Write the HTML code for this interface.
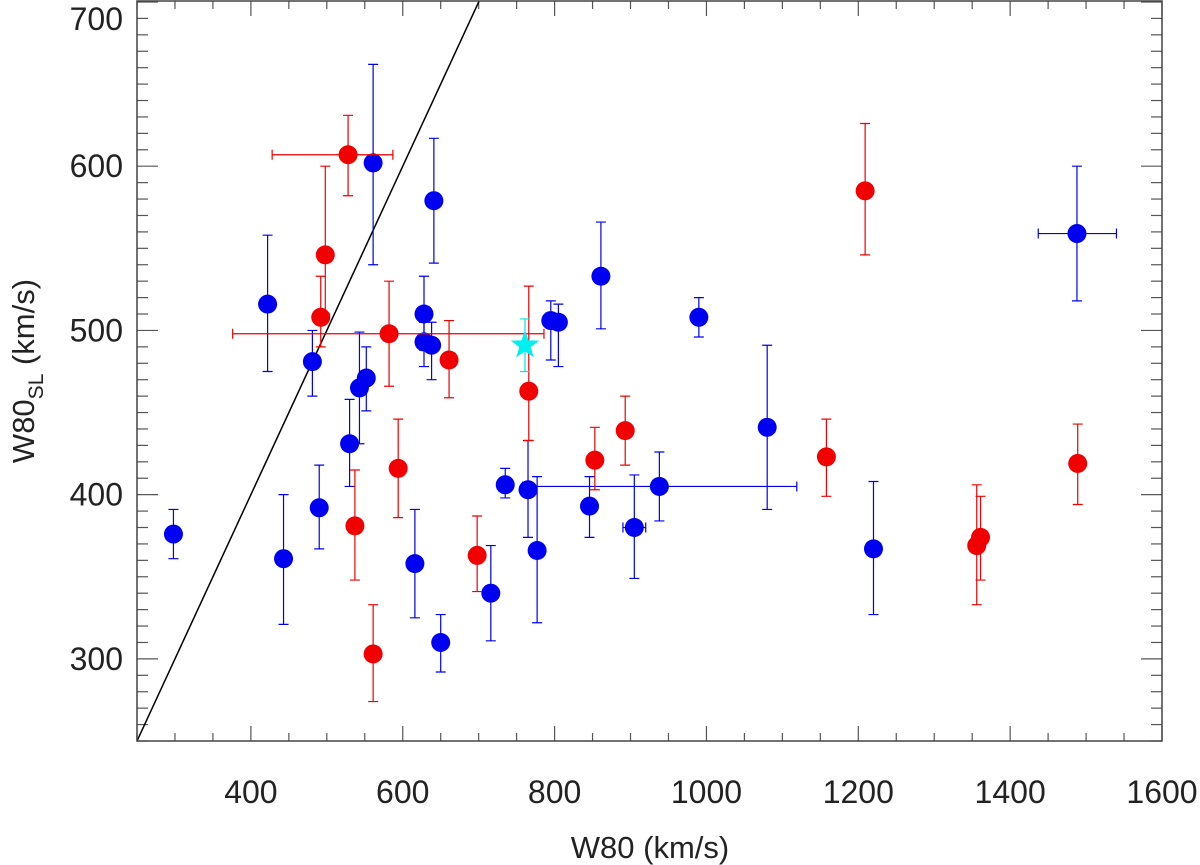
<!DOCTYPE html>
<html><head><meta charset="utf-8"><style>
html,body{margin:0;padding:0;background:#fff;}
svg{display:block;font-family:"Liberation Sans",sans-serif;}
</style></head><body>
<svg id="chart" width="1200" height="865"></svg>
<script>
const blueX=[298,422,443,481,490,530,543,552,561,616,628,628,638,641,650,716,735,765,777,795,805,846,861,905,938,990,1080,1220,1488];
const blueY=[376,516,361,481,392,431,465,471,602,358,510,493,491,579,310,340,406,403,366,506,505,393,533,380,405,508,441,367,559];
const blueHi=[391,558,400,500,418,458,499,490,662,391,533,505,505,617,327,369,416,433,411,518,516,411,566,412,426,520,491,408,600];
const blueLo=[361,475,321,460,367,405,431,451,540,325,488,478,470,541,292,311,398,374,322,482,478,374,501,349,384,496,391,327,518];
const blueXlo=[null,null,null,null,null,null,null,null,null,null,null,null,null,null,null,null,null,null,null,null,null,null,null,890,758,null,null,null,1437];
const blueXhi=[null,null,null,null,null,null,null,null,null,null,null,null,null,null,null,null,null,null,null,null,null,null,null,920,1119,null,null,null,1540];
const redX=[492,498,528,537,561,582,594,661,698,766,853,893,1158,1209,1356,1361,1489];
const redY=[508,546,607,381,303,498,416,482,363,463,421,439,423,585,369,374,419];
const redHi=[533,600,631,415,333,530,446,506,387,527,441,460,446,626,406,399,443];
const redLo=[490,510,582,348,274,466,386,459,341,433,403,418,399,546,333,348,394];
const redXlo=[null,null,428,null,null,376,null,null,null,null,null,null,null,null,null,null,null];
const redXhi=[null,null,587,null,null,786,null,null,null,null,null,null,null,null,null,null,null];
const starX=[761], starY=[491], starHi=[507], starLo=[475];
const xTicks=[400,600,800,1000,1200,1400,1600];
const yTicks=[300,400,500,600,700];

const L=137,R=1162,T=1,B=741;
const X0=250,X1=1600,Y0=250,Y1=700.6;
const sx=v=>L+(v-X0)/(X1-X0)*(R-L);
const sy=v=>B-(v-Y0)/(Y1-Y0)*(B-T);
const svg=document.getElementById('chart');
const NS='http://www.w3.org/2000/svg';
function mk(tag,attrs,parent){const e=document.createElementNS(NS,tag);for(const k in attrs)e.setAttribute(k,attrs[k]);(parent||svg).appendChild(e);return e;}

const clip=mk('clipPath',{id:'pc'});mk('rect',{x:L,y:T,width:R-L,height:B-T},clip);

for(let v=250;v<=1600;v+=50){const x=sx(v);const maj=v%200===0;
 const t1=mk('line',{x1:x,y1:B,x2:x,y2:B-(maj?15:8),stroke:'#555','stroke-width':1.2});
 
 const t2=mk('line',{x1:x,y1:T,x2:x,y2:T+(maj?15:8),stroke:'#555','stroke-width':1.2});
 }
for(let v=250;v<=700;v+=10){const y=sy(v);const maj=v%100===0;
 const t1=mk('line',{x1:L,y1:y,x2:L+(maj?21:11),y2:y,stroke:'#555','stroke-width':1.2});
 
 const t2=mk('line',{x1:R,y1:y,x2:R-(maj?21:11),y2:y,stroke:'#555','stroke-width':1.2});
 }
xTicks.forEach(v=>{const t=mk('text',{x:sx(v),y:803,'text-anchor':'middle','font-size':32,fill:'#222'});t.textContent=v;
 });
yTicks.forEach(v=>{const t=mk('text',{x:123,y:Math.max(sy(v)+11,30),'text-anchor':'end','font-size':32,fill:'#222'});t.textContent=v;
 });

const ln=mk('line',{x1:sx(250),y1:sy(250),x2:sx(750),y2:sy(750),stroke:'#000','stroke-width':1.5,'clip-path':'url(#pc)'});


function series(xs,ys,his,los,xlo,xhi,color,name){
 const g=mk('g',{});
 xs.forEach((xv,i)=>{const x=sx(xv),y=sy(ys[i]),yh=sy(his[i]),yl=sy(los[i]);
  const e=mk('path',{d:`M${x},${yh}V${yl}M${x-5},${yh}H${x+5}M${x-5},${yl}H${x+5}`,stroke:color,'stroke-width':1.2,fill:'none'},g);
  
  if(xlo&&xlo[i]!=null){const a=sx(xlo[i]),b=sx(xhi[i]);
   const h=mk('path',{d:`M${a},${y}H${b}M${a},${y-5}V${y+5}M${b},${y-5}V${y+5}`,stroke:color,'stroke-width':1.2,fill:'none'},g);
   }
  const c=mk('circle',{cx:x,cy:y,r:9.5,fill:color},g);
  
 });
}
series(blueX,blueY,blueHi,blueLo,blueXlo,blueXhi,'#0000f0','blue');
series(redX,redY,redHi,redLo,redXlo,redXhi,'#f00000','red');

starX.forEach((xv,i)=>{const x=sx(xv),y=sy(starY[i]),yh=sy(starHi[i]),yl=sy(starLo[i]);
 const e=mk('path',{d:`M${x},${yh}V${yl}M${x-5},${yh}H${x+5}M${x-5},${yl}H${x+5}`,stroke:'#00e5e5','stroke-width':1.2,fill:'none'});
 
 let p='';for(let k=0;k<10;k++){const r=k%2?6:15,a=-Math.PI/2+k*Math.PI/5;p+=(k?'L':'M')+(x+r*Math.cos(a))+','+(y+r*Math.sin(a));}
 const s=mk('path',{d:p+'Z',fill:'#00f0f0'});
 
});

const fr=mk('rect',{x:L,y:T,width:R-L,height:B-T,fill:'none',stroke:'#444','stroke-width':1.5});


const xt=mk('text',{x:650,y:858,'text-anchor':'middle','font-size':31,fill:'#222'});xt.textContent='W80 (km/s)';

const yt=mk('text',{transform:'translate(34,371) rotate(-90)','text-anchor':'middle','font-size':31,fill:'#222'});
yt.innerHTML='W80<tspan font-size="21" dy="9">SL</tspan><tspan dy="-9"> (km/s)</tspan>';

</script>
</body></html>
